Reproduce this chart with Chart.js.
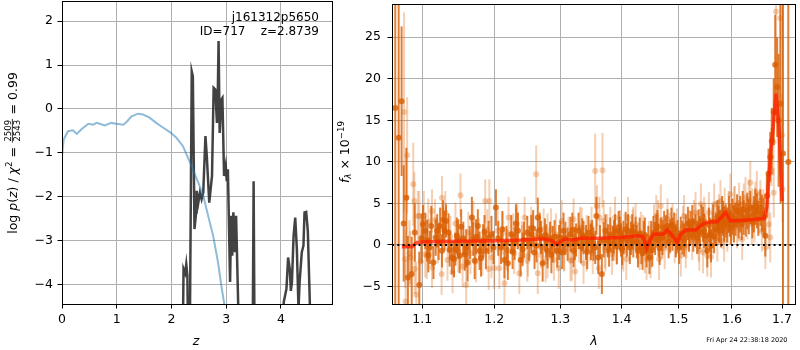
<!DOCTYPE html>
<html>
<head>
<meta charset="utf-8">
<script src="https://cdn.jsdelivr.net/npm/chart.js@4.4.1/dist/chart.umd.min.js"></script>
<style>
  body { margin: 0; background: #fff; }
  #wrap { position: relative; width: 800px; height: 350px; }
  canvas { position: absolute; top: 0; }
  #pz { left: 0; }
  #spec { left: 334px; }
</style>
</head>
<body>
<div id="wrap">
  <canvas id="pz" width="334" height="350"></canvas>
  <canvas id="spec" width="466" height="350"></canvas>
</div>
<script>
// left panel: p(z) and chi2 curves
const PZ_Z = [0, 0.03, 0.11, 0.2, 0.27, 0.35, 0.48, 0.57, 0.63, 0.69, 0.78, 0.9, 0.99, 1.12, 1.18, 1.27, 1.39, 1.48, 1.6, 1.72,
  1.85, 1.97, 2.09, 2.21, 2.30, 2.39, 2.49, 2.58, 2.67, 2.76, 2.85, 2.91, 2.96, 3.0];
const PZ_LOGP = [-1.08, -0.70, -0.51, -0.49, -0.57, -0.47, -0.34, -0.36, -0.32, -0.34, -0.38, -0.32, -0.34, -0.36, -0.30, -0.17, -0.11, -0.13, -0.2, -0.32,
  -0.43, -0.53, -0.66, -0.85, -1.11, -1.38, -1.68, -1.98, -2.44, -2.89, -3.5, -4.03, -4.42, -4.8];

const CHI_Z = [2.20, 2.22, 2.25, 2.27, 2.29, 2.31, 2.33, 2.37, 2.39, 2.42, 2.45, 2.46, 2.49, 2.52, 2.55, 2.58, 2.62, 2.645, 2.69, 2.74,
  2.77, 2.80, 2.83, 2.845, 2.86, 2.88, 2.91, 2.93, 2.96, 2.99, 3.01, 3.03, 3.07, 3.09, 3.11, 3.13, 3.16, 3.18, 3.22, 3.25,
  3.48, 3.50, 3.52, 4.02, 4.05, 4.10, 4.13, 4.16, 4.18, 4.20, 4.23, 4.26, 4.29, 4.32, 4.34, 4.38, 4.41, 4.43, 4.46, 4.49,
  4.53, 4.56, 4.90, 4.96];
const CHI_LOGP = [-6, -3.65, -3.75, -3.54, -3.8, -6, -6, 0.85, 0.74, -2.74, -2.36, -1.87, -2.14, -1.91, -2.06, -1.91, -0.62, -1.08, -2.14, -1.53,
  0.48, 0.44, -0.32, 0.29, 1.55, -0.55, 0.21, 0.25, -1.53, -1.3, -1.65, -1.38, -3.95, -2.44, -3.35, -2.36, -3.27, -2.44, -4.56, -6,
  -6, -1.65, -6, -6, -4.41, -4.1, -3.39, -3.65, -4.15, -3.95, -2.9, -2.48, -3.2, -4.56, -3.95, -3.27, -3.12, -2.36, -2.35, -2.78,
  -4.56, -6, -6, -4.2];

const Z_TICKS = [0, 1, 2, 3, 4];
const LOGP_TICKS = [-4, -3, -2, -1, 0, 1, 2];

// right panel: spectrum
const WAVE_TICKS = [1.1, 1.2, 1.3, 1.4, 1.5, 1.6, 1.7];
const FLUX_TICKS = [-5, 0, 5, 10, 15, 20, 25];

const DARK_WAVE = [
  1.0646, 1.069, 1.0728, 1.0755, 1.079, 1.081, 1.086, 1.090, 1.096, 1.099,
  1.104, 1.1065, 1.110, 1.112, 1.115, 1.118, 1.120, 1.124, 1.1265, 1.130,
  1.132, 1.1355, 1.140, 1.143, 1.145, 1.149, 1.153, 1.158, 1.162, 1.165,
  1.168, 1.170, 1.172, 1.1765, 1.179, 1.184, 1.188, 1.192, 1.196, 1.199,
  1.2025, 1.210, 1.215, 1.220, 1.225, 1.230, 1.235, 1.239, 1.244, 1.249,
  1.255, 1.260, 1.265, 1.270, 1.2725, 1.276, 1.280, 1.284, 1.288, 1.295,
  1.300, 1.305, 1.3115, 1.316, 1.321, 1.325, 1.329, 1.333, 1.337, 1.341,
  1.345, 1.349, 1.353, 1.358, 1.361, 1.364, 1.367, 1.373, 1.377, 1.381,
  1.385, 1.389, 1.395, 1.399, 1.403, 1.407, 1.411, 1.416, 1.420, 1.424,
  1.428, 1.434, 1.438, 1.443, 1.448, 1.451, 1.455, 1.460, 1.464, 1.468,
  1.474, 1.480, 1.485, 1.489, 1.495, 1.501, 1.504, 1.507, 1.513, 1.517,
  1.522, 1.527, 1.531, 1.537, 1.542, 1.547, 1.553, 1.556, 1.560, 1.564,
  1.569, 1.572, 1.576, 1.581, 1.585, 1.588, 1.594, 1.598, 1.604, 1.610,
  1.616, 1.619, 1.623, 1.630, 1.636, 1.643, 1.649, 1.656, 1.663, 1.666,
  1.669, 1.6725, 1.676, 1.679, 1.683, 1.686, 1.690, 1.693, 1.697, 1.702,
  1.713,
  1.101, 1.108, 1.122, 1.128, 1.137, 1.147, 1.151, 1.156, 1.160, 1.174,
  1.181, 1.186, 1.206, 1.212, 1.218, 1.227, 1.232, 1.242, 1.252, 1.258,
  1.263, 1.268, 1.278, 1.286, 1.291, 1.298, 1.303, 1.308, 1.319, 1.323,
  1.335, 1.343, 1.351, 1.356, 1.370, 1.379, 1.387, 1.392, 1.397, 1.401,
  1.409, 1.414, 1.418, 1.426, 1.431, 1.436, 1.440, 1.446, 1.453, 1.458,
  1.462, 1.466, 1.471, 1.477, 1.482, 1.487, 1.492, 1.498, 1.510, 1.519,
  1.525, 1.534, 1.539, 1.545, 1.550, 1.558, 1.566, 1.574, 1.579, 1.583,
  1.591, 1.596, 1.601, 1.607, 1.613, 1.621, 1.627, 1.633, 1.640, 1.646,
  1.652, 1.659];
const DARK_FLUX = [
  16.5, 12.9, 17.3, 2.6, 5.7, -3.9, -3.5, 1.5, -4.8, 0.8,
  1.7, 0.5, -0.3, 2.3, -2.1, 0.9, 1.7, 2.3, -0.7, 1.7,
  2.9, 1.5, -1.5, -1.7, -0.5, 0.7, 2.2, -1.1, -2.1, 0.3,
  3.3, 0.7, -1.9, 2.3, -0.7, 0.5, -0.7, 0.9, 1.3, -0.3,
  4.5, -0.3, -1.8, -2.2, 1.3, 0.2, 1.7, -1.8, 0.6, 1.5,
  1.3, -0.9, 3.3, 0.9, -2.2, 1.2, -0.7, 0.8, 0.1, -0.7,
  0.9, 1.7, 0.1, 1.3, -0.7, 0.6, 1.7, -0.2, 0.9, 0.3,
  1.5, 0.4, 0.1, 3.5, -1.5, 0.4, -3.5, 1.7, 0.5, 1.3,
  0.2, 1.7, 2.1, 0.6, 0.9, 1.9, 1.7, 0.8, 0.5, 1.4,
  -0.7, -0.3, 0.9, -0.7, -1.5, 0.9, 1.5, 1.7, 0.6, 1.3,
  2.1, 2.3, 1.1, 1.3, 0.5, -0.3, 1.4, 0.9, 1.7, 2.6,
  2.1, 1.2, 1.7, 2.3, 2.9, 1.7, -0.7, 2.4, -0.1, 2.8,
  1.9, 3.3, 2.2, 3.9, 2.5, 2.9, 3.7, 2.1, 2.5, 4.1,
  3.7, 2.6, 3.3, 4.1, 4.5, 3.7, 4.1, 4.5, 3.3, 1.1,
  5.9, 8.6, 10.6, 12.5, 16.0, 21.7, 19.0, 15.0, 17.0, 11,
  10,
  2.5, -1.2, 0.4, 3.0, -0.6, 1.1, -1.3, 0.8, -0.4, 1.0,
  -1.6, 1.6, 0.8, 1.9, 0.3, -0.8, 2.6, -0.5, 0.2, 2.0,
  -0.1, 1.8, 0.5, -1.2, 1.0, 0.3, -0.9, 0.8, 1.8, 0.2,
  1.2, -0.8, 1.0, -0.3, 0.6, -0.6, 1.0, -0.2, 1.4, -0.4,
  0.6, -0.3, 1.6, 0.4, 1.3, -1.0, 1.2, 0.3, -0.6, 0.8,
  2.2, -0.4, 0.9, 1.6, 0.4, 2.4, 1.9, 1.0, 0.6, 1.2,
  2.7, 0.9, 1.5, 2.5, 1.1, 1.3, 1.0, 2.6, 1.7, 3.2,
  2.4, 3.0, 3.4, 3.1, 2.9, 4.3, 3.0, 3.4, 2.8, 4.6,
  3.2, 3.8];
const DARK_ERR = [
  30, 26, 9, 7, 6, 5, 4.5, 3.5, 4, 3,
  2.2, 2.5, 2.0, 2.4, 2.0, 2.2, 2.0, 2.2, 2.0, 2.4,
  2.0, 2.3, 2.0, 2.2, 2.0, 2.4, 2.1, 2.0, 2.3, 2.0,
  2.5, 2.0, 2.2, 2.0, 2.3, 2.0, 2.2, 2.0, 2.2, 2.0,
  2.2, 2.0, 2.2, 2.0, 2.3, 2.0, 2.2, 2.0, 2.2, 2.0,
  2.3, 2.0, 2.4, 2.0, 2.2, 2.0, 2.1, 2.0, 2.2, 2.0,
  2.0, 2.2, 2.0, 2.1, 2.0, 2.0, 2.2, 2.0, 2.0, 2.1,
  2.0, 2.2, 2.0, 2.3, 2.0, 2.0, 2.4, 2.0, 2.0, 2.0,
  2.1, 2.0, 2.0, 2.0, 2.0, 2.1, 2.0, 2.0, 2.0, 2.0,
  2.0, 2.0, 2.0, 2.0, 2.0, 2.0, 2.0, 2.0, 2.0, 2.0,
  2.0, 2.0, 2.0, 2.0, 2.0, 2.0, 2.0, 2.0, 2.0, 2.0,
  2.0, 2.0, 2.0, 2.0, 2.0, 2.1, 2.0, 2.1, 2.0, 2.1,
  2.0, 2.1, 2.0, 2.0, 2.1, 2.0, 2.2, 2.0, 2.2, 2.0,
  2.2, 2.0, 2.1, 2.2, 2.0, 2.2, 2.1, 2.2, 2.4, 2.5,
  2.6, 3.0, 3.0, 4, 4, 6, 6, 8, 12, 40,
  40,
  2.3, 2.1, 2.2, 2.4, 2.0, 2.2, 2.1, 2.0, 2.3, 2.1,
  2.2, 2.0, 2.1, 2.2, 2.0, 2.1, 2.3, 2.0, 2.1, 2.2,
  2.0, 2.1, 2.0, 2.2, 2.0, 2.1, 2.0, 2.0, 2.1, 2.0,
  2.0, 2.1, 2.0, 2.0, 2.1, 2.0, 2.0, 2.1, 2.0, 2.0,
  2.0, 2.0, 2.1, 2.0, 2.0, 2.0, 2.1, 2.0, 2.0, 2.0,
  2.0, 2.0, 2.1, 2.0, 2.0, 2.1, 2.0, 2.0, 2.0, 2.0,
  2.1, 2.0, 2.0, 2.1, 2.0, 2.0, 2.0, 2.1, 2.0, 2.1,
  2.1, 2.0, 2.2, 2.0, 2.1, 2.2, 2.0, 2.1, 2.0, 2.2,
  2.1, 2.2];

const LIGHT_WAVE = [
  1.076, 1.078, 1.080, 1.083, 1.088, 1.0895, 1.092, 1.094, 1.098, 1.102,
  1.106, 1.108, 1.113, 1.117, 1.121, 1.126, 1.128, 1.131, 1.134, 1.138,
  1.141, 1.145, 1.149, 1.152, 1.155, 1.160, 1.163, 1.166, 1.170, 1.174,
  1.178, 1.183, 1.187, 1.190, 1.192, 1.193, 1.196, 1.200, 1.2075, 1.212,
  1.215, 1.218, 1.221, 1.2295, 1.233, 1.237, 1.241, 1.245, 1.250, 1.255,
  1.2625, 1.265, 1.268, 1.274, 1.277, 1.280, 1.2855, 1.290, 1.2975, 1.302,
  1.306, 1.313, 1.318, 1.321, 1.3235, 1.330, 1.334, 1.337, 1.342, 1.348,
  1.352, 1.356, 1.359, 1.362, 1.363, 1.368, 1.372, 1.376, 1.381, 1.384,
  1.388, 1.392, 1.397, 1.401, 1.405, 1.408, 1.414, 1.419, 1.424, 1.429,
  1.433, 1.437, 1.440, 1.443, 1.447, 1.450, 1.456, 1.460, 1.463, 1.465,
  1.468, 1.471, 1.475, 1.480, 1.484, 1.489, 1.493, 1.497, 1.504, 1.508,
  1.510, 1.514, 1.519, 1.525, 1.528, 1.531, 1.535, 1.541, 1.545, 1.549,
  1.553, 1.556, 1.560, 1.563, 1.566, 1.569, 1.572, 1.575, 1.578, 1.582,
  1.586, 1.591, 1.594, 1.597, 1.601, 1.606, 1.610, 1.614, 1.620, 1.6265,
  1.630, 1.633, 1.636, 1.640, 1.644, 1.649, 1.652, 1.656, 1.659, 1.662,
  1.666, 1.670, 1.673, 1.676, 1.678, 1.6825, 1.683, 1.6877, 1.696, 1.700,
  1.701,
  1.0775, 1.084, 1.090, 1.096, 1.104, 1.113, 1.1265, 1.205, 1.220, 1.228,
  1.234, 1.241, 1.249, 1.257, 1.270, 1.280, 1.293, 1.306, 1.316, 1.3315,
  1.342, 1.350, 1.370, 1.373, 1.389, 1.397, 1.403, 1.411, 1.420, 1.431,
  1.451, 1.470, 1.495, 1.513, 1.531, 1.537, 1.538, 1.547, 1.562, 1.575,
  1.585, 1.604, 1.613, 1.623, 1.639, 1.646, 1.659];
const LIGHT_FLUX = [
  16, -6.8, 10.8, -1.0, 7.3, 5.3, -6.0, 3.5, -2.0, 3.5,
  -1.3, 2.8, -2.7, 3.0, 0.3, -3.5, 2.2, 3.9, -1.8, 1.0,
  -3.3, 2.6, -0.8, 6.0, -2.6, -4.8, 1.5, -1.0, 2.8, -2.0,
  0.7, -1.2, 5.3, 1.8, -2.9, 5.3, -1.5, -2.8, -2.8, 1.4,
  -4.6, -0.5, 3.3, -1.0, 2.0, -3.4, 0.4, 3.3, -1.3, 2.1,
  8.5, -3.4, 1.0, 1.9, -2.0, -1.5, 1.9, -1.8, -2.8, 2.9,
  -0.6, 0.9, -1.8, 3.1, -3.2, 0.4, 2.0, -2.2, 1.1, 0.5,
  -1.0, 8.9, 4.7, -2.8, 3.3, 9.0, -0.3, 1.2, 2.1, -1.1,
  0.6, 0.1, 1.6, -0.4, 1.3, -1.7, 0.5, 1.8, 2.5, 0.2,
  1.5, 1.1, -0.9, -1.7, 0.4, -1.5, 2.4, 3.5, 2.9, -1.7,
  4.7, 0.8, -0.4, 3.1, 1.4, 2.5, 0.3, 1.9, -1.3, 2.2,
  3.5, 0.9, 1.7, 0.7, 2.9, 3.9, 1.6, 4.9, -0.9, 2.6,
  -1.3, 3.9, -1.4, 1.5, 4.9, 2.8, 0.5, 3.6, 5.3, 2.0,
  4.4, 1.7, 4.0, 6.1, 3.0, 4.6, 2.1, 5.0, 0.7, 5.7,
  3.2, 5.4, 7.5, 4.3, 2.8, 6.3, 3.9, 5.3, 1.7, 4.2,
  -0.3, 6.0, 2.5, 0.9, 10.6, 12.4, 6.3, 28.1, 27.3, 13.2,
  6.7,
  -1.7, -1.5, -2.9, 3.5, -1.1, 4.1, 5.7, 1.7, -0.7, 1.3,
  2.5, -0.1, -1.9, 1.3, -0.3, 1.3, 1.3, -0.7, -1.9, 2.1,
  -0.7, 2.1, 2.9, -0.7, 3.3, 1.7, -0.7, 3.3, 2.1, -0.5,
  -0.3, 0.9, 1.3, -0.3, 2.5, 0.5, -0.6, 3.3, 2.1, 2.9,
  0.5, 4.5, 2.9, 4.9, 2.5, 5.1, 3.7];
const LIGHT_ERR = [
  12, 5, 7, 4, 5, 3.5, 4, 3, 3, 3,
  2.8, 2.8, 2.5, 2.5, 2.5, 2.5, 2.5, 2.6, 2.5, 2.5,
  2.5, 2.5, 2.5, 2.6, 2.5, 2.6, 2.5, 2.5, 2.5, 2.5,
  2.5, 2.5, 2.6, 2.5, 2.5, 2.6, 2.5, 2.5, 2.5, 2.5,
  2.6, 2.5, 2.5, 2.5, 2.5, 2.5, 2.5, 2.5, 2.5, 2.5,
  3.5, 2.5, 2.5, 2.5, 2.5, 2.5, 2.5, 2.5, 2.5, 2.5,
  2.5, 2.5, 2.5, 2.5, 2.5, 2.5, 2.5, 2.5, 2.5, 2.5,
  2.5, 4.5, 2.5, 2.5, 2.5, 4.5, 2.5, 2.5, 2.5, 2.5,
  2.5, 2.5, 2.5, 2.5, 2.5, 2.5, 2.5, 2.5, 2.5, 2.5,
  2.5, 2.5, 2.5, 2.5, 2.5, 2.5, 2.5, 2.5, 2.5, 2.5,
  2.6, 2.5, 2.5, 2.5, 2.5, 2.5, 2.5, 2.5, 2.5, 2.5,
  2.5, 2.5, 2.5, 2.5, 2.5, 2.5, 2.5, 2.5, 2.5, 2.5,
  2.5, 2.5, 2.5, 2.5, 2.5, 2.5, 2.5, 2.5, 2.5, 2.5,
  2.5, 2.5, 2.5, 2.5, 2.5, 2.5, 2.5, 2.5, 2.5, 2.5,
  2.5, 2.5, 2.6, 2.5, 2.5, 2.6, 2.5, 2.5, 2.5, 2.5,
  2.6, 2.8, 3, 3, 3.5, 4, 3, 10, 10, 5,
  4,
  3.5, 3.2, 3.0, 3.0, 2.8, 2.6, 2.6, 2.5, 2.5, 2.5,
  2.5, 2.5, 2.5, 2.5, 2.5, 2.5, 2.5, 2.5, 2.5, 2.5,
  2.5, 2.5, 2.5, 2.5, 2.5, 2.5, 2.5, 2.5, 2.5, 2.5,
  2.5, 2.5, 2.5, 2.5, 2.5, 2.5, 2.5, 2.5, 2.5, 2.5,
  2.5, 2.5, 2.5, 2.5, 2.5, 2.5, 2.5];

const MODEL_WAVE = [1.073, 1.0865, 1.093, 1.104, 1.15, 1.2025, 1.24, 1.2745, 1.288, 1.295,
  1.30, 1.307, 1.318, 1.326, 1.3315, 1.361, 1.40, 1.428, 1.437, 1.443,
  1.449, 1.455, 1.472, 1.48, 1.489, 1.498, 1.504, 1.513, 1.531, 1.547,
  1.56, 1.572, 1.588, 1.597, 1.63, 1.663, 1.669, 1.6725, 1.677, 1.681,
  1.6877, 1.694, 1.70];
const MODEL_FLUX = [-0.2, -0.2, 0.3, 0.4, 0.45, 0.5, 0.6, 0.75, 0.5, 0.03,
  0.4, 0.7, 0.6, 0.7, 0.8, 0.8, 0.9, 1.1, 1.0, -0.4,
  0.6, 1.3, 1.3, 1.8, 1.1, 0.3, 1.3, 1.8, 1.8, 2.6,
  2.8, 2.8, 3.9, 2.9, 3.0, 3.2, 4.5, 7.7, 11.2, 13.6,
  18.2, 14, 5.3];

const WAVE_MIN = 1.0604, WAVE_MAX = 1.729;

const FONT = 'DejaVu Sans';
Chart.defaults.font.family = FONT;
Chart.defaults.font.size = 12.5;
Chart.defaults.color = '#000';

const minus = v => String(v).replace('-', '\u2212');
const pts = (xs, ys) => xs.map((x, i) => ({ x: x, y: ys[i] }));
const gridOpts = { color: '#b0b0b0', lineWidth: 1, tickColor: '#000', tickLength: 4.5 };

// fixed axis sizes so the plot boxes land where the reference has them
const fixHeight = h => s => { s.height = h; s.paddingLeft = 0; s.paddingRight = 0; };
const fixWidth = w => s => { s.width = w; s.paddingTop = 0; s.paddingBottom = 0; };

// black box around the plot area
const frame = {
  id: 'frame',
  afterDraw(chart) {
    const { ctx, chartArea: a } = chart;
    const l = Math.round(a.left) + 0.5, t = Math.round(a.top) + 0.5;
    const r = Math.round(a.right) - 0.5, b = Math.round(a.bottom) + 0.5;
    ctx.save();
    ctx.strokeStyle = '#000';
    ctx.lineWidth = 1;
    ctx.strokeRect(l, t, r - l, b - t);
    ctx.restore();
  }
};

// vertical error bars, drawn just before each dataset's markers
const errorBars = {
  id: 'errorBars',
  beforeDatasetDraw(chart, args) {
    const ds = chart.data.datasets[args.index];
    if (!ds.errors) return;
    const { ctx, chartArea: a, scales } = chart;
    ctx.save();
    ctx.beginPath();
    ctx.rect(a.left, a.top, a.right - a.left, a.bottom - a.top);
    ctx.clip();
    ctx.strokeStyle = ds.errorColor;
    ctx.lineWidth = 2;
    ds.data.forEach((p, i) => {
      const px = scales.x.getPixelForValue(p.x);
      ctx.beginPath();
      ctx.moveTo(px, scales.y.getPixelForValue(p.y - ds.errors[i]));
      ctx.lineTo(px, scales.y.getPixelForValue(p.y + ds.errors[i]));
      ctx.stroke();
    });
    ctx.restore();
  }
};

// mixed upright / italic / sub / superscript text, centred on (x, y)
function richText(ctx, parts, x, y, angle) {
  const fontOf = p => (p.italic ? 'italic ' : '') + p.size + 'px ' + FONT;
  ctx.save();
  ctx.translate(x, y);
  ctx.rotate(angle);
  let total = 0;
  parts.forEach(p => {
    ctx.font = fontOf(p);
    p.w = p.frac ? Math.max(ctx.measureText(p.num).width, ctx.measureText(p.den).width) + 3
                 : ctx.measureText(p.text).width;
    total += p.w;
  });
  let cx = -total / 2;
  ctx.fillStyle = '#000';
  ctx.textBaseline = 'alphabetic';
  parts.forEach(p => {
    ctx.font = fontOf(p);
    if (p.frac) {
      ctx.textAlign = 'center';
      ctx.fillText(p.num, cx + p.w / 2, p.bar - 1.6);
      ctx.fillText(p.den, cx + p.w / 2, p.bar + 7.4);
      ctx.fillRect(cx + 0.5, p.bar - 0.4, p.w - 1, 0.8);
    } else {
      ctx.textAlign = 'left';
      ctx.fillText(p.text, cx, p.dy || 0);
    }
    cx += p.w;
  });
  ctx.restore();
}

const pzText = {
  id: 'pzText',
  afterDraw(chart) {
    const ctx = chart.ctx;
    ctx.save();
    ctx.fillStyle = '#000';
    ctx.font = '12px ' + FONT;
    ctx.textAlign = 'right';
    ctx.fillText('j161312p5650', 319, 21);
    ctx.fillText('ID=717    z=2.8739', 319, 34.5);
    ctx.font = 'italic 12.5px ' + FONT;
    ctx.textAlign = 'center';
    ctx.fillText('z', 196, 345);
    ctx.restore();
    richText(ctx, [
      { text: 'log ', size: 12.5 }, { text: 'p', italic: true, size: 12.5 }, { text: '(', size: 12.5 },
      { text: 'z', italic: true, size: 12.5 }, { text: ') / ', size: 12.5 }, { text: '\u03c7', italic: true, size: 12.5 },
      { text: '2', size: 8.7, dy: -5 }, { text: ' = ', size: 12.5 },
      { frac: true, num: '2509', den: '2543', size: 8.5, bar: -4.2 }, { text: ' = 0.99', size: 12.5 }
    ], 16.5, 153, -Math.PI / 2);
  }
};

const specText = {
  id: 'specText',
  afterDraw(chart) {
    const ctx = chart.ctx;
    ctx.save();
    ctx.fillStyle = '#000';
    ctx.font = 'italic 12.5px ' + FONT;
    ctx.textAlign = 'center';
    ctx.fillText('\u03bb', 260, 345);
    ctx.font = '6.5px ' + FONT;
    ctx.textAlign = 'right';
    ctx.fillText('Fri Apr 24 22:38:18 2020', 453.5, 341.5);
    ctx.restore();
    richText(ctx, [
      { text: 'f', italic: true, size: 12.5 }, { text: '\u03bb', italic: true, size: 8.7, dy: 2.5 },
      { text: ' \u00d7 10', size: 12.5 }, { text: '\u221219', size: 8.7, dy: -5 }
    ], 14.5, 152, -Math.PI / 2);
  }
};

new Chart(document.getElementById('pz'), {
  type: 'scatter',
  data: {
    datasets: [
      { data: pts(PZ_Z, PZ_LOGP), showLine: true, borderColor: 'rgba(31,119,180,0.5)', borderWidth: 2, pointRadius: 0, clip: 0 },
      { data: pts(CHI_Z, CHI_LOGP), showLine: true, borderColor: 'rgba(40,40,40,0.88)', borderWidth: 2.5, pointRadius: 0, clip: 0 }
    ]
  },
  options: {
    responsive: false,
    animation: false,
    events: [],
    layout: { padding: { top: 1, right: 1, left: 0, bottom: 0 } },
    plugins: { legend: { display: false }, tooltip: { enabled: false } },
    scales: {
      x: {
        type: 'linear', min: 0, max: 4.95,
        afterBuildTicks: s => { s.ticks = Z_TICKS.map(v => ({ value: v })); },
        afterFit: fixHeight(46),
        grid: gridOpts, border: { display: false },
        ticks: { padding: 4, maxRotation: 0, autoSkip: false, callback: v => minus(v) }
      },
      y: {
        type: 'linear', min: -4.45, max: 2.46,
        afterBuildTicks: s => { s.ticks = LOGP_TICKS.map(v => ({ value: v })); },
        afterFit: fixWidth(62),
        grid: gridOpts, border: { display: false },
        ticks: { padding: 4.5, autoSkip: false, callback: v => minus(v) }
      }
    }
  },
  plugins: [frame, pzText]
});

new Chart(document.getElementById('spec'), {
  type: 'scatter',
  data: {
    datasets: [
      { data: [{ x: WAVE_MIN, y: 0 }, { x: WAVE_MAX, y: 0 }], showLine: true, borderColor: '#000', borderWidth: 2,
        borderDash: [2, 3.3], pointRadius: 0, clip: 0 },
      { data: pts(MODEL_WAVE, MODEL_FLUX), showLine: true, borderColor: 'rgba(255,30,0,0.75)', borderWidth: 3.5,
        pointRadius: 0, clip: 0 },
      { data: pts(DARK_WAVE, DARK_FLUX), errors: DARK_ERR, errorColor: 'rgba(217,95,2,0.8)',
        pointRadius: 3, pointBackgroundColor: 'rgba(217,95,2,0.8)', pointBorderWidth: 0, clip: 0 },
      { data: pts(LIGHT_WAVE, LIGHT_FLUX), errors: LIGHT_ERR, errorColor: 'rgba(217,95,2,0.3)',
        pointRadius: 3, pointBackgroundColor: 'rgba(217,95,2,0.3)', pointBorderWidth: 0, clip: 0 }
    ]
  },
  options: {
    responsive: false,
    animation: false,
    events: [],
    layout: { padding: { top: 1, right: 1, left: 0, bottom: 0 } },
    plugins: { legend: { display: false }, tooltip: { enabled: false } },
    scales: {
      x: {
        type: 'logarithmic', min: WAVE_MIN, max: WAVE_MAX,
        afterBuildTicks: s => { s.ticks = WAVE_TICKS.map(v => ({ value: v })); },
        afterFit: fixHeight(46),
        grid: gridOpts, border: { display: false },
        ticks: { padding: 4, maxRotation: 0, autoSkip: false, callback: v => Number(v).toFixed(1) }
      },
      y: {
        type: 'linear', min: -7.1, max: 29,
        afterBuildTicks: s => { s.ticks = FLUX_TICKS.map(v => ({ value: v })); },
        afterFit: fixWidth(58),
        grid: gridOpts, border: { display: false },
        ticks: { padding: 6.5, autoSkip: false, callback: v => minus(v) }
      }
    }
  },
  plugins: [errorBars, frame, specText]
});
</script>
</body>
</html>
